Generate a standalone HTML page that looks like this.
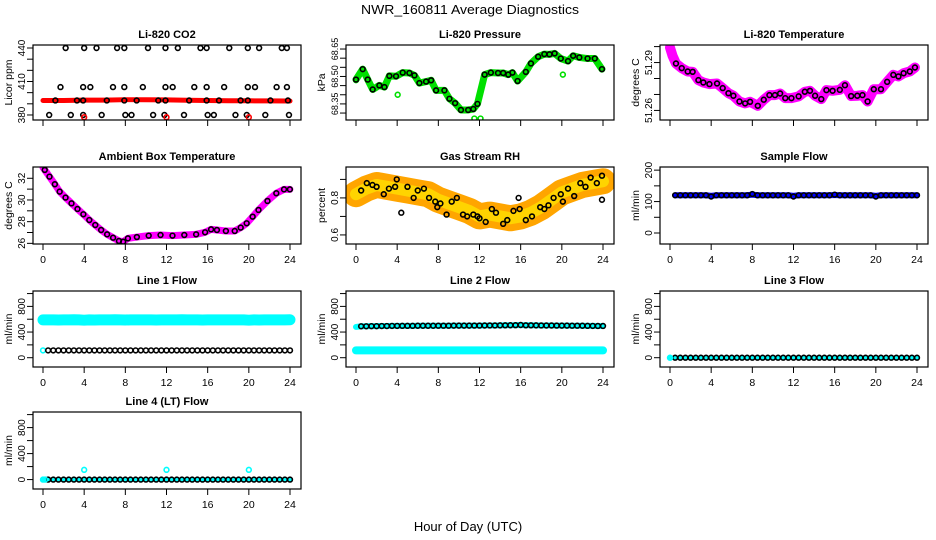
<!DOCTYPE html>
<html><head><meta charset="utf-8"><style>
html,body{margin:0;padding:0;background:#fff;}
svg{display:block;font-family:"Liberation Sans",sans-serif;}
</style></head><body>
<svg id="chart" width="936" height="540" viewBox="0 0 936 540" xmlns="http://www.w3.org/2000/svg">
<rect width="936" height="540" fill="#fff"/>
<text x="470" y="14" font-size="13" text-anchor="middle" textLength="218" lengthAdjust="spacingAndGlyphs">NWR_160811  Average Diagnostics</text>
<text x="468" y="531" font-size="13" text-anchor="middle">Hour of Day (UTC)</text>
</svg>
<script>
// ---- data ----
const xTicks = [0,4,8,12,16,20,24];
// CO2
const co2BandHours = [0,2,4,6,8,10,12,14,16,18,20,22,24];
const co2BandValues = [393,393,393.3,393.3,393.7,393.7,393.5,393.2,393,392.8,392.7,392.6,392.5];
const co2PtHours = [2.2,4.0,5.2,7.2,7.9,10.2,11.9,13.1,15.3,15.9,18.1,19.9,21.0,23.2,23.7,
 1.7,3.9,4.6,6.8,7.9,9.7,11.9,12.6,14.7,15.9,17.6,19.9,20.6,22.7,23.7,
 1.2,3.3,3.9,6.2,7.9,9.1,11.2,11.9,14.2,15.9,17.1,19.2,19.9,22.1,23.8,
 0.6,2.7,3.9,5.7,8.0,8.6,10.7,11.8,13.7,16.0,16.6,18.7,19.8,21.6,23.9];
const co2PtValues = [440,440,440,440,440,440,440,440,440,440,440,440,440,440,440,
 405,405,405,405,405,405,405,405,405,405,405,405,405,405,405,
 393,393,393,393,393,393,393,393,393,393,393,393,393,393,393,
 380,380,380,380,380,380,380,380,380,380,380,380,380,380,380];
const co2RedHours = [4,12,20];
const co2RedValues = [378,378,378];
// Pressure
const presHours = [0,0.65,1.14,1.62,2.27,2.76,3.24,3.89,4.54,5.19,5.68,6.16,6.81,7.30,7.78,8.59,9.08,9.63,10.2,10.9,11.4,11.8,12.5,13.1,13.8,14.3,14.8,15.2,15.7,16.5,17.0,17.7,18.3,18.8,19.3,19.9,20.6,21.1,21.7,22.5,23.2,23.9];
const presValues = [68.483,68.540,68.483,68.429,68.451,68.442,68.503,68.501,68.521,68.519,68.506,68.464,68.472,68.479,68.424,68.424,68.378,68.354,68.317,68.317,68.322,68.350,68.510,68.521,68.519,68.519,68.510,68.521,68.475,68.525,68.571,68.608,68.622,68.621,68.626,68.598,68.584,68.613,68.604,68.598,68.598,68.540];
const presOutHours = [4.05,20.1,11.5,12.1,0];
const presOutValues = [68.40,68.51,68.27,68.27,68.48];
// Li-820 temperature
const ltHours = [0,0.25,0.58,1.14,1.72,2.2,2.76,3.24,3.83,4.57,5.12,5.68,6.16,6.75,7.30,7.78,8.53,9.11,9.66,10.2,10.7,11.2,11.8,12.5,13.1,13.6,14.1,14.7,15.2,15.8,16.5,17.0,17.6,18.2,18.7,19.2,19.8,20.5,21.1,21.7,22.2,22.7,23.3,23.8];
const ltValues = [51.2994,51.2942,51.2894,51.2865,51.2844,51.2842,51.2790,51.2775,51.2765,51.2769,51.2740,51.2708,51.2692,51.2656,51.2644,51.2654,51.2629,51.2667,51.2696,51.2696,51.2706,51.2677,51.2677,51.2688,51.2717,51.2723,51.2692,51.2671,51.2727,51.2723,51.2729,51.2758,51.2690,51.2692,51.2696,51.2656,51.2733,51.2733,51.2779,51.2823,51.2813,51.2833,51.2844,51.2869];
// Ambient box temperature
const abHours = [0,0.17,0.63,1.15,1.62,2.19,2.77,3.35,3.92,4.50,5.08,5.65,6.23,6.81,7.38,7.79,8.25,9.12,10.27,11.42,12.58,13.73,14.88,15.75,16.33,16.90,17.77,18.63,19.21,19.79,20.37,20.94,21.81,22.67,23.42,23.99];
const abValues = [33.0,32.77,32.15,31.45,30.77,30.22,29.69,29.17,28.68,28.15,27.69,27.23,26.83,26.52,26.22,26.15,26.46,26.58,26.71,26.77,26.71,26.77,26.83,27.02,27.29,27.23,27.14,27.14,27.45,27.85,28.46,29.08,29.91,30.62,30.98,30.98];
// Gas stream RH
const rhBandHours = [0,1,2,3,4,5,6,7,8,9,10,11,12,13,14,15,16,17,18,19,20,21,22,23,24];
const rhBandValues = [0.82,0.85,0.87,0.86,0.85,0.84,0.83,0.82,0.79,0.77,0.75,0.73,0.70,0.71,0.70,0.69,0.70,0.72,0.75,0.79,0.83,0.85,0.87,0.88,0.89];
const rhPtHours = [0.5,1.05,1.6,2.0,2.7,3.2,3.8,3.96,4.4,5.0,5.6,6.0,6.6,7.1,7.7,7.9,8.2,8.8,9.3,9.8,10.4,10.8,11.4,11.8,12.0,12.6,13.2,13.6,14.3,14.7,15.3,15.8,15.9,16.5,17.1,17.9,18.3,18.7,19.2,19.9,20.1,20.6,21.2,21.8,22.3,22.8,23.4,23.9,23.9];
const rhPtValues = [0.84,0.88,0.87,0.86,0.82,0.85,0.86,0.90,0.72,0.86,0.80,0.84,0.85,0.80,0.78,0.75,0.77,0.71,0.78,0.80,0.71,0.70,0.71,0.70,0.69,0.67,0.74,0.72,0.66,0.68,0.73,0.80,0.74,0.68,0.70,0.75,0.74,0.76,0.80,0.82,0.78,0.85,0.81,0.88,0.86,0.91,0.88,0.92,0.79];
// Flows
const flowHours = [0.5,1,1.5,2,2.5,3,3.5,4,4.5,5,5.5,6,6.5,7,7.5,8,8.5,9,9.5,10,10.5,11,11.5,12,12.5,13,13.5,14,14.5,15,15.5,16,16.5,17,17.5,18,18.5,19,19.5,20,20.5,21,21.5,22,22.5,23,23.5,24];
const sampleBandValues = [120,120,120,120,120,120,120,118,120,120,120,120,120,120,120,122,120,120,120,120,120,120,120,118,120,120,120,120,120,120,120,121,120,120,120,120,120,120,120,118,120,120,120,120,120,120,120,120];
const samplePtValues = [120,120,120,120,120,120,120,116,120,120,120,120,120,120,120,124,120,120,120,120,120,120,120,116,120,120,120,120,120,120,120,122,120,120,120,120,120,120,120,116,120,120,120,120,120,120,120,120];
const line1CyanValues = [590,590,588,590,590,592,590,585,590,588,590,590,590,592,590,588,590,590,590,590,590,588,590,590,590,590,592,590,590,590,588,590,590,590,590,590,590,590,590,585,590,588,590,590,590,590,590,592];
const line1BlackValues = [114,114,114,114,114,114,114,114,114,114,114,114,114,114,114,114,114,114,114,114,114,114,114,114,114,114,114,114,114,114,114,114,114,114,114,114,114,114,114,114,114,114,114,114,114,114,114,114];
const line2CyanValues = [114,114,114,114,114,114,114,114,114,114,114,114,114,114,114,114,114,114,114,114,114,114,114,114,114,114,114,114,114,114,114,114,114,114,114,114,114,114,114,114,114,114,114,114,114,114,114,114];
const line2BlackValues = [490,490,492,492,494,494,496,496,497,497,497,498,498,498,498,499,499,499,500,500,500,500,501,501,502,503,503,504,505,506,507,510,505,505,504,503,502,502,501,500,500,499,499,498,497,496,495,495];
const line3Values = [0,0,0,0,0,0,0,0,0,0,0,0,0,0,0,0,0,0,0,0,0,0,0,0,0,0,0,0,0,0,0,0,0,0,0,0,0,0,0,0,0,0,0,0,0,0,0,0];
const line4Values = [0,0,0,0,0,0,0,0,0,0,0,0,0,0,0,0,0,0,0,0,0,0,0,0,0,0,0,0,0,0,0,0,0,0,0,0,0,0,0,0,0,0,0,0,0,0,0,0];
const line4SpikeHours = [4,12,20,0,0.2];
const line4SpikeValues = [150,150,150,0,0];

// ---- rendering ----
const NS = "http://www.w3.org/2000/svg";
const svg = document.getElementById("chart");
const colLeft = [33,346,660];
const rowTop = [45,167,291,412];
const rowBot = [120,244,367,489];
function mk(tag, attrs, parent){
  const e = document.createElementNS(NS, tag);
  for (const k in attrs) e.setAttribute(k, attrs[k]);
  (parent||svg).appendChild(e);
  return e;
}
function panel(col,row,title,ylab,ylim,yTicks,yLabels,showX,dec,lfs){
  const g = mk("g",{});
  
  
  const L = colLeft[col], R = L+268, T = rowTop[row], B = rowBot[row];
  const xs = h => L+10 + h/24*247;
  const ys = v => B - (v-ylim[0])/(ylim[1]-ylim[0])*(B-T);
  const t = mk("text",{x:(L+R)/2,y:T-7,"font-size":11,"font-weight":"bold","text-anchor":"middle"},g);
  t.textContent = title;
  
  
  const yt = mk("text",{x:0,y:0,"font-size":10.5,"text-anchor":"middle",transform:`translate(${L-21},${(T+B)/2}) rotate(-90)`},g);
  yt.textContent = ylab;
  
  
  xTicks.forEach(h=>{
    const tk = mk("line",{x1:xs(h),x2:xs(h),y1:B,y2:B+6,stroke:"#000"},g);
    
    
    if(showX){
      const tl = mk("text",{x:xs(h),y:B+19,"font-size":10.5,"text-anchor":"middle"},g);
      tl.textContent = h;
      
      
    }
  });
  yTicks.forEach(v=>{
    const tk = mk("line",{x1:L-6,x2:L,y1:ys(v),y2:ys(v),stroke:"#000"},g);
    
    
  });
  yLabels.forEach(v=>{
    const tl = mk("text",{x:0,y:0,"font-size":lfs||10,"text-anchor":"middle",transform:`translate(${L-8},${ys(v)}) rotate(-90)`},g);
    tl.textContent = dec!==undefined ? v.toFixed(dec) : v;
    
    
  });
  const clipId = "c"+col+row;
  const cp = mk("clipPath",{id:clipId},g);
  mk("rect",{x:L,y:T,width:R-L,height:B-T},cp);
  const plot = mk("g",{"clip-path":`url(#${clipId})`},g);
  const box = mk("rect",{x:L,y:T,width:R-L,height:B-T,fill:"none",stroke:"#000","stroke-width":1.2},g);
  
  
  return {
    band(hours,vals,color,w,name){
      const p = mk("polyline",{points:hours.map((h,i)=>xs(h)+","+ys(vals[i])).join(" "),fill:"none",stroke:color,"stroke-width":w,"stroke-linejoin":"round","stroke-linecap":"round"},plot);
      
      
    },
    pts(hours,vals,color,name,r){
      hours.forEach((h,i)=>{
        const c = mk("circle",{cx:xs(h),cy:ys(vals[i]),r:r||2.4,fill:"none",stroke:color,"stroke-width":1.6},plot);
        
        
      });
    }
  };
}
let p;
p = panel(0,0,"Li-820 CO2","Licor ppm",[375.5,442.7],[380,390,400,410,420,430,440],[380,410,440],false);
p.band(co2BandHours,co2BandValues,"#ff0000",5,"co2-band");
p.pts(co2PtHours,co2PtValues,"#000","co2-point");
p.pts(co2RedHours,co2RedValues,"#ff0000","co2-red-point");

p = panel(1,0,"Li-820 Pressure","kPa",[68.262,68.672],[68.30,68.35,68.40,68.45,68.50,68.55,68.60,68.65],[68.35,68.50,68.65],false,2,9);
p.band(presHours,presValues,"#00e000",7,"pressure-band");
p.pts(presOutHours,presOutValues,"#00e000","pressure-green-point");
p.pts(presHours,presValues,"#000","pressure-point");

p = panel(2,0,"Li-820 Temperature","degrees C",[51.254,51.301],[51.26,51.27,51.28,51.29,51.30],[51.26,51.29],false,2);
p.band(ltHours,ltValues,"#ff00ff",10,"temperature-band");
p.pts(ltHours.slice(2),ltValues.slice(2),"#000","temperature-point");

p = panel(0,1,"Ambient Box Temperature","degrees C",[25.94,33.04],[26,27,28,29,30,31,32],[26,28,30,32],true);
p.band(abHours,abValues,"#ff00ff",7,"ambient-band");
p.pts(abHours.slice(1),abValues.slice(1),"#000","ambient-point");

p = panel(1,1,"Gas Stream RH","percent",[0.551,0.967],[0.6,0.7,0.8,0.9],[0.6,0.8],true);
p.band(rhBandHours,rhBandValues,"#ffa500",26,"rh-band-outer");
p.band(rhBandHours,rhBandValues,"#ffd400",12,"rh-band-inner");
p.pts(rhPtHours,rhPtValues,"#000","rh-point");

p = panel(2,1,"Sample Flow","ml/min",[-35,210],[0,50,100,150,200],[0,100,200],true);
p.band(flowHours,sampleBandValues,"#0000ff",6,"sample-flow-band");
p.pts(flowHours,samplePtValues,"#000","sample-flow-point");

const flowLim = [-145,1040], flowTicks=[0,200,400,600,800,1000], flowLabels=[0,400,800];
p = panel(0,2,"Line 1 Flow","ml/min",flowLim,flowTicks,flowLabels,true);
p.band([0].concat(flowHours),[590].concat(line1CyanValues),"#00ffff",11,"line1-cyan-band");
p.pts([0],[114],"#00ffff","line1-cyan-point");
p.pts(flowHours,line1BlackValues,"#000","line1-point");

p = panel(1,2,"Line 2 Flow","ml/min",flowLim,flowTicks,flowLabels,true);
p.band([0].concat(flowHours),[114].concat(line2CyanValues),"#00ffff",8,"line2-cyan-band");
p.band([0].concat(flowHours),[480].concat(line2BlackValues),"#00ffff",6,"line2-cyan-upper");
p.pts(flowHours,line2BlackValues,"#000","line2-point");

p = panel(2,2,"Line 3 Flow","ml/min",flowLim,flowTicks,flowLabels,true);
p.band([0].concat(flowHours),[0].concat(line3Values),"#00ffff",4,"line3-cyan-band");
p.pts(flowHours,line3Values,"#000","line3-point");
p.pts([0],[0],"#00ffff","line3-cyan-point");

p = panel(0,3,"Line 4 (LT) Flow","ml/min",flowLim,flowTicks,flowLabels,true);
p.band([0].concat(flowHours),[0].concat(line4Values),"#00ffff",4,"line4-cyan-band");
p.pts(flowHours,line4Values,"#000","line4-point");
p.pts(line4SpikeHours,line4SpikeValues,"#00ffff","line4-cyan-point");
</script>
</body></html>
